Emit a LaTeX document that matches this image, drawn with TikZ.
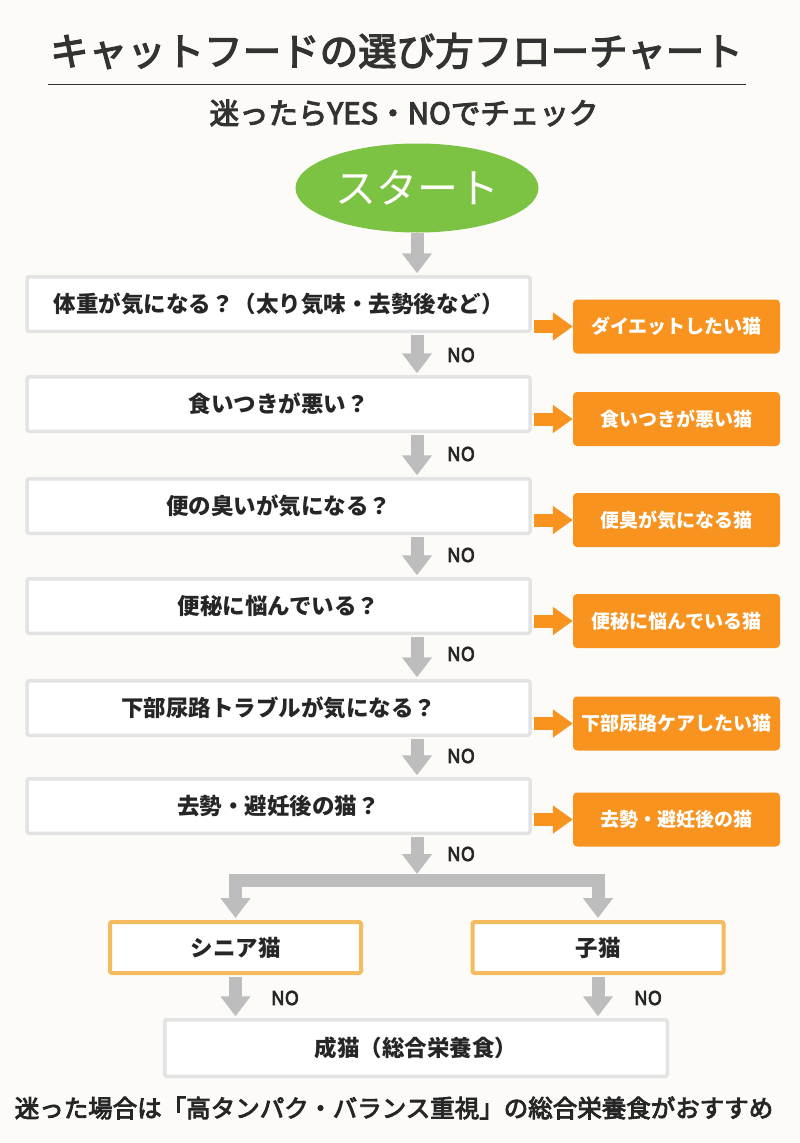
\documentclass[tikz,border=0pt]{standalone}
\usepackage{fontspec}
\setmainfont{Noto Sans CJK JP}
\newfontfamily\medfont{Noto Sans CJK JP}[FakeBold=3.2]
\newfontfamily\semifont{Noto Sans CJK JP}[FakeBold=3.6]
\usetikzlibrary{arrows.meta,shapes.geometric}
\definecolor{bg}{HTML}{FCFBF7}
\definecolor{txt}{HTML}{262626}
\definecolor{titletxt}{HTML}{333333}
\definecolor{boxline}{HTML}{E3E3E3}
\definecolor{arrgray}{HTML}{BDBDBD}
\definecolor{ora}{HTML}{F7931E}
\definecolor{startgreen}{HTML}{7CC243}
\definecolor{lightora}{HTML}{F4BC5E}
\begin{document}
\begin{tikzpicture}[x=1pt,y=-1pt,
  qbox/.style={draw=boxline, line width=3.5pt, fill=white, rounded corners=2pt,
    minimum width=503pt, minimum height=54.5pt, inner sep=0pt,
    font=\fontsize{22.5}{27}\selectfont\bfseries, text=txt},
  obox/.style={fill=ora, rounded corners=4pt, minimum width=207pt, minimum height=54pt,
    inner sep=0pt, text=white, font=\fontsize{19}{23}\selectfont\bfseries},
  agebox/.style={draw=lightora, line width=4pt, fill=white, rounded corners=2pt,
    minimum width=251pt, minimum height=51pt, inner sep=0pt,
    font=\fontsize{22.5}{27}\selectfont\bfseries, text=txt},
  nolab/.style={font=\fontsize{19}{23}\selectfont\semifont, text=txt, inner sep=0pt},
  garrow/.style={draw=arrgray, line width=13pt, line join=miter,
    -{Triangle[width=29pt,length=20pt]}},
  oarrow/.style={draw=ora, line width=13pt, -{Triangle[width=27pt,length=20pt]}},
]
\useasboundingbox (0,0) rectangle (800,1143);
\fill[bg] (0,0) rectangle (800,1143);

% title
\node[font=\fontsize{38.5}{44}\selectfont\medfont, text=titletxt, inner sep=0pt] (title) at (396.5,51) {キャットフードの選び方フローチャート};
\draw[titletxt, line width=1pt] (48,84) -- (746,84);
\node[font=\fontsize{29.5}{34}\selectfont\semifont, text=titletxt, inner sep=0pt] (subtitle) at (404,113) {迷ったらYES・NOでチェック};

% start
\node[ellipse, fill=startgreen, minimum width=243pt, minimum height=89pt, inner sep=0pt,
  text=white, font=\fontsize{41}{46}\selectfont] (start) at (417,188) {スタート};

% questions
\node[qbox] (q1) at (278.5,304) {体重が気になる？（太り気味・去勢後など）};
\node[qbox] (q2) at (278.5,404) {食いつきが悪い？};
\node[qbox] (q3) at (278.5,506) {便の臭いが気になる？};
\node[qbox] (q4) at (278.5,606) {便秘に悩んでいる？};
\node[qbox] (q5) at (278.5,708) {下部尿路トラブルが気になる？};
\node[qbox] (q6) at (278.5,806) {去勢・避妊後の猫？};

% results
\node[obox] (o1) at (676.5,326.5) {ダイエットしたい猫};
\node[obox] (o2) at (676.5,419) {食いつきが悪い猫};
\node[obox] (o3) at (676.5,520) {便臭が気になる猫};
\node[obox] (o4) at (676.5,621) {便秘に悩んでいる猫};
\node[obox] (o5) at (676.5,723.5) {下部尿路ケアしたい猫};
\node[obox] (o6) at (676.5,819.5) {去勢・避妊後の猫};

% yes arrows
\foreach \i in {1,...,6}{
  \draw[oarrow] ([xshift=1.75pt]q\i.east |- o\i.west) -- (o\i.west);
}

% no arrows
\draw[garrow] (start.south) -- ([yshift=1.75pt]start |- q1.north);
\draw[garrow] ([yshift=-1.75pt]start |- q1.south) -- ([yshift=1.75pt]start |- q2.north);
\draw[garrow] ([yshift=-1.75pt]start |- q2.south) -- ([yshift=1.75pt]start |- q3.north);
\draw[garrow] ([yshift=-1.75pt]start |- q3.south) -- ([yshift=1.75pt]start |- q4.north);
\draw[garrow] ([yshift=-1.75pt]start |- q4.south) -- ([yshift=1.75pt]start |- q5.north);
\draw[garrow] ([yshift=-1.75pt]start |- q5.south) -- ([yshift=1.75pt]start |- q6.north);

\node[nolab] (no1) at (461,355) {NO};
\node[nolab] (no2) at (461,454) {NO};
\node[nolab] (no3) at (461,555) {NO};
\node[nolab] (no4) at (461,654) {NO};
\node[nolab] (no5) at (461,756) {NO};
\node[nolab] (no6) at (461,854) {NO};

% age boxes
\node[agebox] (sen) at (235.5,947.5) {シニア猫};
\node[agebox] (kit) at (598,947.5) {子猫};
\node[qbox, minimum width=502.5pt, minimum height=56.5pt] (fin) at (416,1048) {成猫（総合栄養食）};

% branch
\coordinate (split) at (417,880);
\coordinate (splittop) at (417,874);
\draw[garrow] ([yshift=-1.75pt]start |- q6.south) -- (splittop);
\draw[garrow] (split) -| ([yshift=2pt]sen.north);
\draw[garrow] (split) -| ([yshift=2pt]kit.north);

\draw[garrow] ([yshift=-2pt]sen.south) -- ([yshift=1.75pt]sen.south |- fin.north);
\draw[garrow] ([yshift=-2pt]kit.south) -- ([yshift=1.75pt]kit.south |- fin.north);
\node[nolab] (no7) at (285,998) {NO};
\node[nolab] (no8) at (648,998) {NO};

% footnote
\node[font=\fontsize{24.5}{29}\selectfont\semifont, text=txt, inner sep=0pt] (foot) at (394,1108) {迷った場合は「高タンパク・バランス重視」の総合栄養食がおすすめ};
\end{tikzpicture}
\end{document}
